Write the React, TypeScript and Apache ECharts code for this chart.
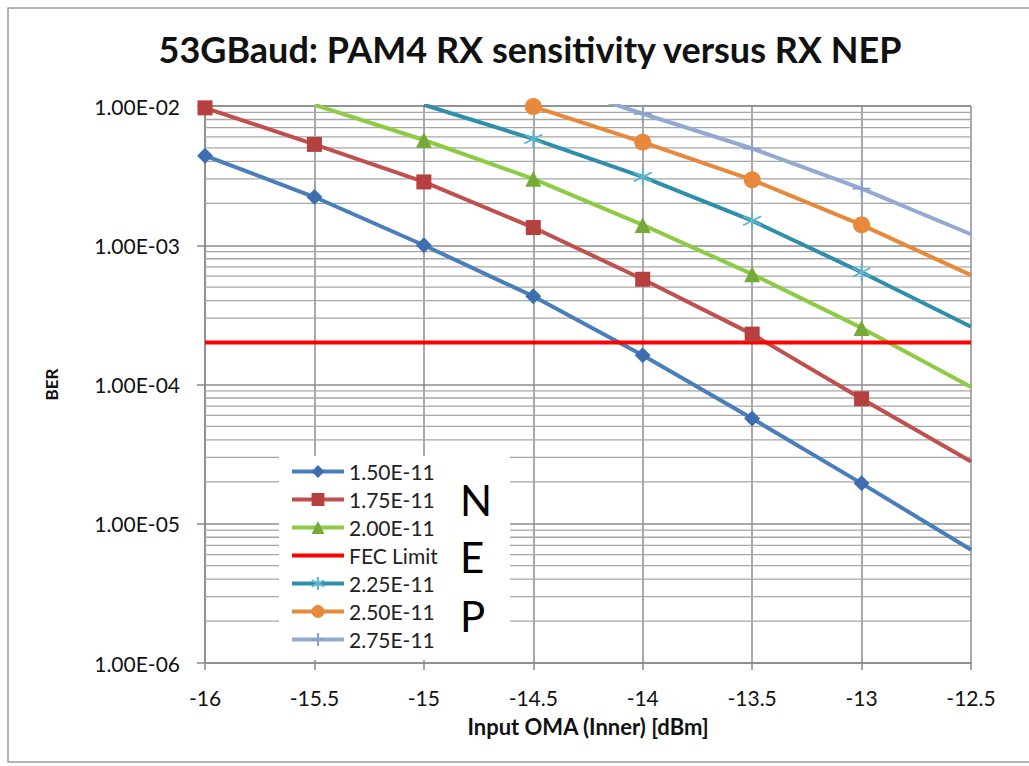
import React, { useEffect, useRef } from "react";
import * as echarts from "echarts";

const xValues = [-16, -15.5, -15, -14.5, -14, -13.5, -13, -12.5];
const nep150 = [4.4e-3, 2.22e-3, 1.0e-3, 4.3e-4, 1.62e-4, 5.7e-5, 1.95e-5, 6.5e-6];
const nep175 = [9.7e-3, 5.3e-3, 2.85e-3, 1.34e-3, 5.7e-4, 2.3e-4, 7.9e-5, 2.8e-5];
const nep200 = [null, 1.02e-2, 5.7e-3, 3.0e-3, 1.4e-3, 6.2e-4, 2.55e-4, 9.6e-5];
const nep225 = [null, null, 1.02e-2, 5.8e-3, 3.1e-3, 1.5e-3, 6.4e-4, 2.6e-4];
const nep250 = [null, null, null, 9.9e-3, 5.5e-3, 2.95e-3, 1.4e-3, 6.1e-4];
const nep275 = [null, null, null, 1.6e-2, 8.8e-3, 4.95e-3, 2.55e-3, 1.2e-3];
const fecLimit = 2e-4;
const seriesNames = ["1.50E-11", "1.75E-11", "2.00E-11", "FEC Limit", "2.25E-11", "2.50E-11", "2.75E-11"];
const yMajor = [1e-6, 1e-5, 1e-4, 1e-3, 1e-2];
const minorMultipliers = [2, 3, 4, 5, 6, 7, 8, 9];
const sideLetters = ["N", "E", "P"];

const FONT = "Lato";

function fmtE(v: number) {
  const exp = Math.round(Math.log10(v));
  const mant = v / Math.pow(10, exp);
  const sign = exp < 0 ? "-" : "+";
  const e = Math.abs(exp).toString().padStart(2, "0");
  return mant.toFixed(2) + "E" + sign + e;
}

function toData(vals: (number | null)[]) {
  const out: any[] = [];
  vals.forEach((v, i) => {
    if (v == null) return;
    if (i === xValues.length - 1) out.push({ value: [xValues[i], v], symbol: "none" });
    else out.push([xValues[i], v]);
  });
  return out;
}

const ASTERISK = "path://M0,-10L0,10M-8.66,-5L8.66,5M-8.66,5L8.66,-5";
const PLUS = "path://M0,-10L0,10M-10,0L10,0";
const BAR_ICON = "path://M0,0L52,0L52,4L0,4Z";

export default function App() {
  const ref = useRef<HTMLDivElement>(null);
  useEffect(() => {
    if (!ref.current) return;
    const chart = echarts.init(ref.current, null, { renderer: "svg" });
    const xMin = xValues[0];
    const xMax = xValues[xValues.length - 1];
    const minorData: any[] = [];
    for (let i = 0; i < yMajor.length - 1; i++) {
      minorMultipliers.forEach((m) => {
        const v = m * yMajor[i];
        minorData.push([xMin, v], [xMax, v], [xMax, "-"]);
      });
    }
    const mk = (name: string, vals: (number | null)[], lineColor: string, markColor: string, symbol: string, size: number, stroke = false) => ({
      name,
      type: "line",
      data: toData(vals),
      symbol,
      symbolSize: size,
      clip: true,
      z: 3,
      lineStyle: { color: lineColor, width: 4 },
      itemStyle: stroke
        ? { color: markColor, borderColor: markColor, borderWidth: 1.8 }
        : { color: markColor, borderWidth: 0 },
      emphasis: { disabled: true },
    });
    const option: any = {
      animation: false,
      backgroundColor: "#ffffff",
      title: {
        text: "53GBaud: PAM4 RX sensitivity versus RX NEP",
        left: 525,
        textAlign: "center",
        top: 26,
        textStyle: { fontFamily: FONT, fontWeight: "bold", fontSize: 36, color: "#111" },
      },
      grid: { left: 205, right: 58, top: 106, bottom: 103, containLabel: false },
      legend: {
        orient: "vertical",
        left: 290,
        top: 461,
        itemWidth: 52,
        itemHeight: 16,
        itemGap: 7,
        padding: 0,
        z: 6,
        lineStyle: { width: 4 },
        data: seriesNames.map((n) => (n === "FEC Limit" ? { name: n, icon: BAR_ICON } : { name: n })),
        textStyle: { fontFamily: FONT, fontSize: 21, color: "#222" },
        selectedMode: false,
      },
      xAxis: {
        type: "value",
        min: -16,
        max: -12.5,
        interval: 0.5,
        name: "Input OMA (Inner) [dBm]",
        nameLocation: "middle",
        nameGap: 52,
        nameTextStyle: { fontFamily: FONT, fontWeight: "bold", fontSize: 22, color: "#111" },
        axisLine: { show: true, onZero: false, lineStyle: { color: "#888", width: 1.5 } },
        axisTick: { show: true, inside: false, length: 7, lineStyle: { color: "#888", width: 1.5 } },
        axisLabel: { margin: 24, fontFamily: FONT, fontSize: 21, color: "#111" },
        splitLine: { show: true, lineStyle: { color: "#8c8c8c", width: 1.5 } },
      },
      yAxis: {
        type: "log",
        logBase: 10,
        min: 1e-6,
        max: 1e-2,
        name: "BER",
        nameLocation: "middle",
        nameGap: 145,
        nameRotate: 90,
        nameTextStyle: { fontFamily: FONT, fontWeight: "bold", fontSize: 17, color: "#111" },
        axisLine: { show: true, lineStyle: { color: "#888", width: 1.5 } },
        axisTick: { show: true, inside: false, length: 8, lineStyle: { color: "#888", width: 1.5 } },
        axisLabel: { margin: 25, fontFamily: FONT, fontSize: 21, color: "#111", formatter: (v: number) => fmtE(v) },
        splitLine: { show: true, lineStyle: { color: "#8c8c8c", width: 1.5 } },
      },
      graphic: [
        { type: "rect", shape: { x: 8, y: 8, width: 1040, height: 754 }, style: { fill: "none", stroke: "#9a9a9a", lineWidth: 1.5 }, z: 0 },
        { type: "rect", shape: { x: 279, y: 456, width: 231, height: 204 }, style: { fill: "#ffffff" }, z: 5 },
        ...sideLetters.map((t, i) => ({
          type: "text",
          x: 460,
          y: [500, 557, 616][i],
          style: { text: t, fontFamily: FONT, fontSize: 42, fill: "#000", align: "left", verticalAlign: "middle" },
          z: 7,
        })),
      ],
      series: [
        {
          name: "minorGrid",
          type: "line",
          data: minorData,
          showSymbol: false,
          symbol: "none",
          connectNulls: false,
          z: 1,
          silent: true,
          lineStyle: { color: "#a6a6a6", width: 1.3 },
          emphasis: { disabled: true },
        },
        mk(seriesNames[0], nep150, "#4A7EBB", "#3D6FB0", "diamond", 16),
        mk(seriesNames[1], nep175, "#C0504D", "#B5403D", "rect", 15),
        mk(seriesNames[2], nep200, "#8DCB45", "#77A83A", "triangle", 16),
        {
          name: seriesNames[3],
          type: "line",
          data: [[xMin, fecLimit], [xMax, fecLimit]],
          symbol: "none",
          z: 3,
          lineStyle: { color: "#FF0000", width: 4 },
          itemStyle: { color: "#FF0000" },
          emphasis: { disabled: true },
        },
        mk(seriesNames[4], nep225, "#2F8FAA", "#5DB5CF", ASTERISK, 18, true),
        mk(seriesNames[5], nep250, "#E8883A", "#E8883A", "circle", 17),
        mk(seriesNames[6], nep275, "#93A9D2", "#8AA0CC", PLUS, 18, true),
      ],
    };
    chart.setOption(option);
    return () => chart.dispose();
  }, []);
  return <div ref={ref} style={{ position: "fixed", left: 0, top: 0, width: 1029, height: 766 }} />;
}
